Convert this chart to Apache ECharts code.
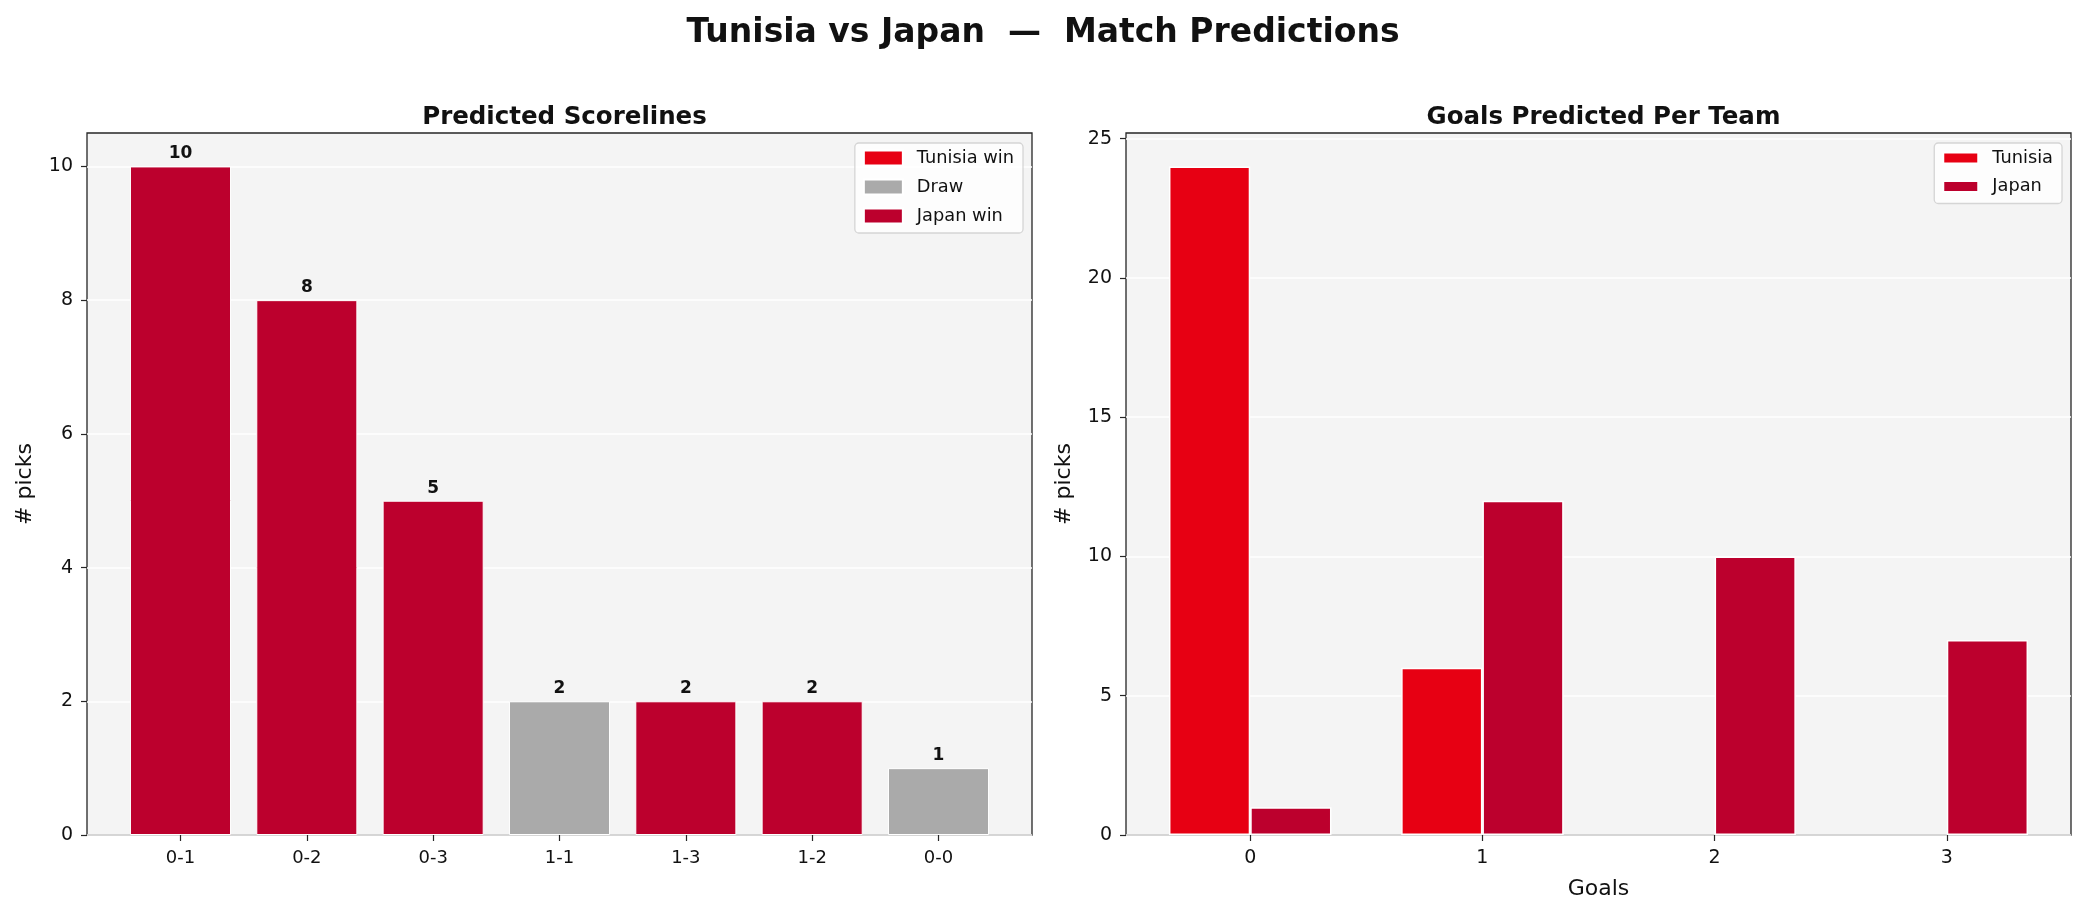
<!DOCTYPE html>
<html>
<head>
<meta charset="utf-8">
<title>Tunisia vs Japan — Match Predictions</title>
<script src="https://cdn.jsdelivr.net/npm/echarts@6/dist/echarts.min.js"></script>
<style>
  html, body { margin: 0; padding: 0; background: #fff; }
  #chart { width: 2086px; height: 916px; }
</style>
</head>
<body>
<div id="chart"></div>
<script>
  // scoreline picks
  const scorelines = ['0-1', '0-2', '0-3', '1-1', '1-3', '1-2', '0-0'];
  const scorelinePicks = [10, 8, 5, 2, 2, 2, 1];
  const scorelineOutcome = ['Japan win', 'Japan win', 'Japan win', 'Draw', 'Japan win', 'Japan win', 'Draw'];
  const outcomes = ['Tunisia win', 'Draw', 'Japan win'];

  // goals per team
  const goals = [0, 1, 2, 3];
  const tunisiaGoals = [24, 6, 0, 0];
  const japanGoals = [1, 12, 10, 7];

  const leftTicks = [0, 2, 4, 6, 8, 10];
  const rightTicks = [0, 5, 10, 15, 20, 25];

  const colors = {
    'Tunisia win': '#E70013',
    'Draw': '#AAAAAA',
    'Japan win': '#BC002D',
    'Tunisia': '#E70013',
    'Japan': '#BC002D'
  };

  const FONT = 'DejaVu Sans';
  const gridL = { left: 87, top: 133, width: 945, height: 702 };
  const gridR = { left: 1126, top: 133, width: 945, height: 702 };

  // matplotlib-ish limits (5% margin around the bars)
  const xMinL = -0.4 - 0.34, xMaxL = scorelines.length - 1 + 0.4 + 0.34;
  const xMinR = -0.35 - 0.185, xMaxR = goals.length - 1 + 0.35 + 0.185;
  const barWL = gridL.width / (xMaxL - xMinL) * 0.8;
  const barWR = gridR.width / (xMaxR - xMinR) * 0.35;

  const tickStyle = { color: '#262626', width: 1.2 };

  function axisX(idx, min, max, ticks, fmt, fontSize) {
    return {
      type: 'value', gridIndex: idx, min: min, max: max,
      axisLine: { show: false, onZero: false },
      axisTick: { show: true, customValues: ticks, length: 6, lineStyle: tickStyle },
      axisLabel: { customValues: ticks, formatter: fmt, margin: 14, color: '#111', fontFamily: FONT, fontSize: fontSize },
      splitLine: { show: false }
    };
  }

  function axisY(idx, max, ticks) {
    return {
      type: 'value', gridIndex: idx, min: 0, max: max,
      name: '# picks', nameLocation: 'middle', nameRotate: 90, nameGap: 51,
      nameTextStyle: { fontFamily: FONT, fontSize: 22, color: '#111' },
      axisLine: { show: false, onZero: false },
      axisTick: { show: true, customValues: ticks, length: 6, lineStyle: tickStyle },
      axisLabel: { customValues: ticks, margin: 14, color: '#111', fontFamily: FONT, fontSize: 19 },
      splitLine: { show: true, lineStyle: { color: '#ffffff', width: 1.5 } }
    };
  }

  function legendBox(names, right, iw, ih, gap) {
    return {
      data: names, orient: 'vertical', right: right, top: 143,
      itemWidth: iw, itemHeight: ih, itemGap: gap, icon: 'rect',
      padding: [6, 9, 8, 8],
      backgroundColor: 'rgba(255,255,255,0.8)',
      borderColor: 'rgba(204,204,204,0.8)', borderWidth: 1.3, borderRadius: 4,
      textStyle: { fontFamily: FONT, fontSize: 17.8, color: '#111', lineHeight: 18, padding: [0, 0, 0, 9] }
    };
  }

  // one series per outcome, overlapping at the same x
  const scoreSeries = outcomes.map(function (o) {
    const data = [];
    scorelines.forEach(function (s, i) {
      if (scorelineOutcome[i] === o) data.push([i, scorelinePicks[i]]);
    });
    return {
      name: o, type: 'bar', xAxisIndex: 0, yAxisIndex: 0,
      barWidth: barWL, barGap: '-100%',
      itemStyle: { color: colors[o], borderColor: '#fff', borderWidth: 1 },
      label: {
        show: true, position: 'top', distance: 4,
        fontFamily: FONT, fontWeight: 'bold', fontSize: 17, color: '#111',
        formatter: function (p) { return p.value[1]; }
      },
      data: data
    };
  });

  const goalSeries = [['Tunisia', tunisiaGoals], ['Japan', japanGoals]].map(function (t) {
    return {
      name: t[0], type: 'bar', xAxisIndex: 1, yAxisIndex: 1,
      barWidth: barWR, barGap: '0%',
      itemStyle: { color: colors[t[0]], borderColor: '#fff', borderWidth: 1.5 },
      // empty bars get no white edge over the axis
      data: goals.map(function (g, i) {
        const v = t[1][i];
        return v === 0 ? { value: [g, v], itemStyle: { borderWidth: 0 } } : [g, v];
      })
    };
  });

  const chart = echarts.init(document.getElementById('chart'));
  chart.setOption({
    animation: false,
    backgroundColor: '#ffffff',
    title: [
      { text: 'Tunisia vs Japan  —  Match Predictions', left: 'center', top: 12,
        textStyle: { fontFamily: FONT, fontSize: 33, fontWeight: 'bold', color: '#111' } },
      { text: 'Predicted Scorelines', left: gridL.left + gridL.width / 2, textAlign: 'center', top: 100,
        textStyle: { fontFamily: FONT, fontSize: 24.5, fontWeight: 'bold', color: '#111' } },
      { text: 'Goals Predicted Per Team', left: gridR.left + gridR.width / 2, textAlign: 'center', top: 100,
        textStyle: { fontFamily: FONT, fontSize: 24.5, fontWeight: 'bold', color: '#111' } }
    ],
    legend: [
      legendBox(outcomes, 2086 - 1023, 39, 15, 11),
      legendBox(['Tunisia', 'Japan'], 2086 - 2062, 35, 11, 10.5)
    ],
    grid: [gridL, gridR].map(function (g) {
      return Object.assign({ show: true, backgroundColor: '#F4F4F4', borderColor: '#262626', borderWidth: 1.3 }, g);
    }),
    xAxis: [
      axisX(0, xMinL, xMaxL, scorelines.map(function (s, i) { return i; }),
        function (v) { return scorelines[Math.round(v)]; }, 18),
      Object.assign(axisX(1, xMinR, xMaxR, goals, function (v) { return String(v); }, 19), {
        name: 'Goals', nameLocation: 'middle', nameGap: 43,
        nameTextStyle: { fontFamily: FONT, fontSize: 22, color: '#111' }
      })
    ],
    yAxis: [axisY(0, 10.5, leftTicks), axisY(1, 25.2, rightTicks)],
    series: scoreSeries.concat(goalSeries)
  });
</script>
</body>
</html>
